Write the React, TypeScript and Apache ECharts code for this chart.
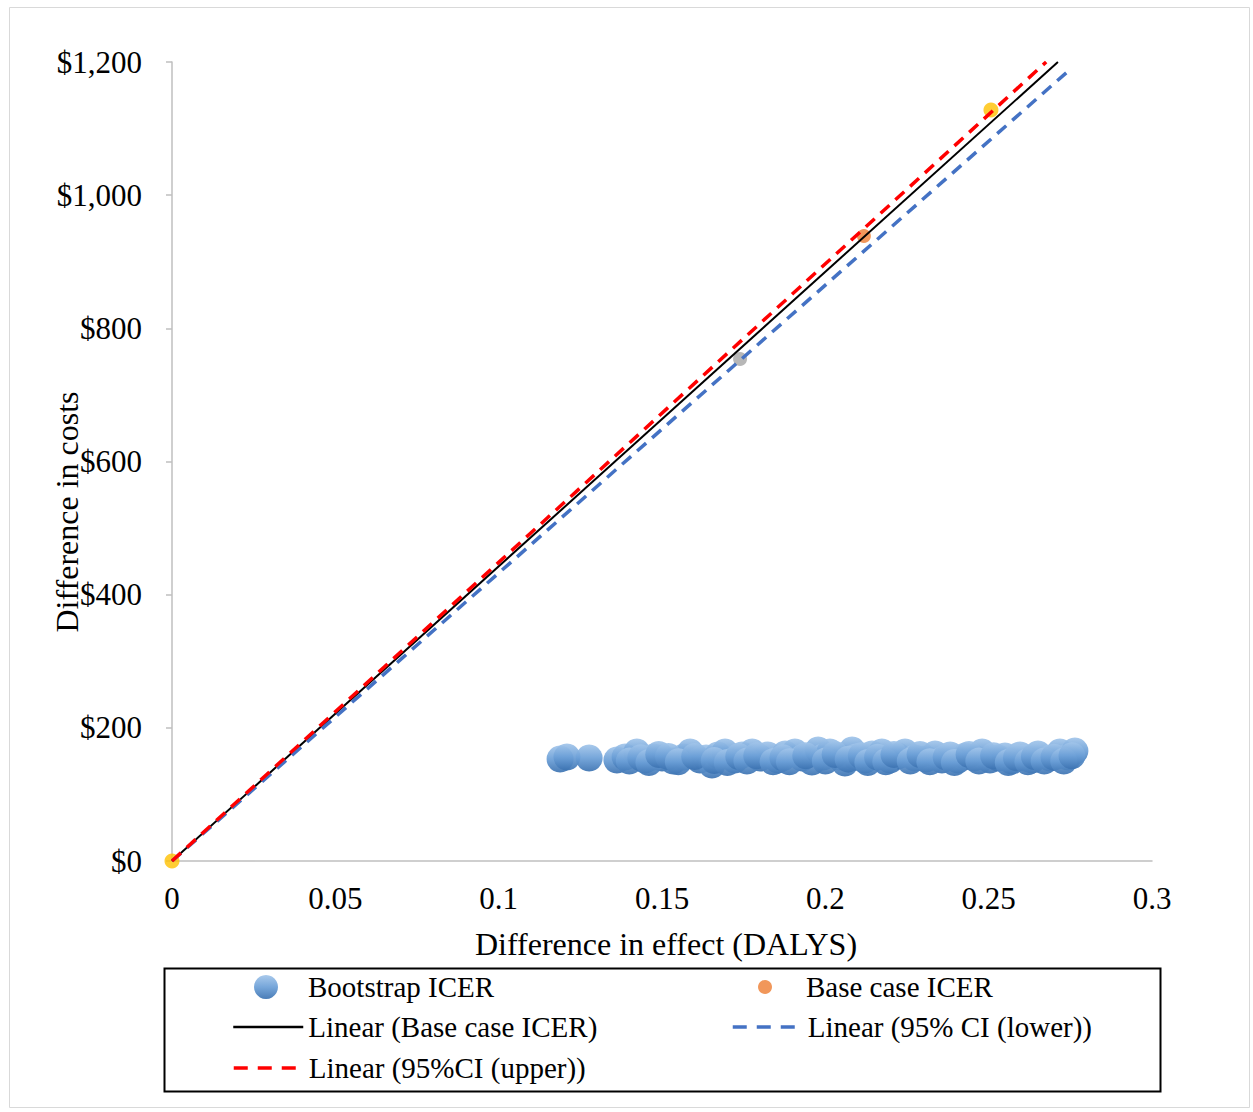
import React, { useEffect, useRef } from "react";
import * as echarts from "echarts";

// Bootstrap ICER scatter (difference in effect, difference in cost)
const bootX = [
  0.1188, 0.1209, 0.1277, 0.1362, 0.1387, 0.1423, 0.1448, 0.1475, 0.15, 0.1534,
  0.1567, 0.1586, 0.1616, 0.1635, 0.1653, 0.1671, 0.1693, 0.1723, 0.1745, 0.1776,
  0.18, 0.1824, 0.1855, 0.1877, 0.1907, 0.1929, 0.1959, 0.1978, 0.1993, 0.2014,
  0.2042, 0.206, 0.2082, 0.2094, 0.2121, 0.2143, 0.2173, 0.2198, 0.2222, 0.2244,
  0.2274, 0.2308, 0.2336, 0.2357, 0.2382, 0.2406, 0.2428, 0.2455, 0.248, 0.2504,
  0.2529, 0.255, 0.2571, 0.2596, 0.2611, 0.2633, 0.2651, 0.2688, 0.2718, 0.2743,
  0.2764,
  0.14, 0.1435, 0.146, 0.149, 0.152, 0.155, 0.16, 0.166, 0.17, 0.1735,
  0.176, 0.179, 0.184, 0.187, 0.189, 0.194, 0.2, 0.203, 0.207, 0.211,
  0.213, 0.216, 0.2185, 0.221, 0.226, 0.229, 0.232, 0.237, 0.2395, 0.244,
  0.247, 0.2515, 0.256, 0.2585, 0.262, 0.264, 0.267, 0.27, 0.273, 0.2755,
];
const bootY = [
  153.2, 156.2, 154.7, 151.7, 156.2, 163.7, 151.7, 156.2, 154.7, 150.2,
  156.2, 163.7, 151.7, 154.7, 144.2, 159.2, 163.7, 151.7, 159.2, 163.7,
  154.7, 159.2, 151.7, 160.7, 163.7, 154.7, 148.7, 166.7, 156.2, 163.7,
  156.2, 147.2, 166.7, 156.2, 151.7, 160.7, 163.7, 151.7, 157.7, 163.7,
  154.7, 153.2, 160.7, 151.7, 159.2, 151.7, 157.7, 154.7, 163.7, 151.7,
  154.7, 157.7, 150.2, 159.2, 154.7, 151.7, 160.7, 154.7, 163.7, 156.2,
  165.2,
  150, 155, 148, 160, 157, 149, 157, 151, 148, 157,
  150, 158, 149, 155, 149, 158, 150, 160, 153, 158,
  148, 156, 149, 160, 150, 160, 149, 156, 148, 160,
  150, 158, 148, 155, 149, 157, 150, 156, 150, 158,
];

// Single points
const baseCasePoint = [[0.2118, 938.7]];
const lowerPoint = [[0.1739, 754]];
const upperPoints = [[0, 0], [0.2507, 1128]];

// Linear trend lines (start and end points)
const baseLine = [[0, 0], [0.2712, 1200]];
const lowerLine = [[0, 0], [0.2738, 1184]];
const upperLine = [[0, 0], [0.2676, 1200]];

const xTicks = { min: 0, max: 0.3, interval: 0.05 };
const yTicks = { min: 0, max: 1200, interval: 200 };

const FONT = "'Liberation Serif', 'Times New Roman', serif";

export default function App() {
  const ref = useRef<HTMLDivElement>(null);

  useEffect(() => {
    if (!ref.current) return;
    const chart = echarts.init(ref.current, undefined, { renderer: "svg" });

    const bubbleColor = {
      type: "linear",
      x: 0,
      y: 0,
      x2: 0,
      y2: 1,
      colorStops: [
        { offset: 0, color: "#a2c5ea" },
        { offset: 0.5, color: "#6b9fd7" },
        { offset: 1, color: "#3b72b1" },
      ],
    };

    const legendText = { fontFamily: FONT, fontSize: 29, color: "#000", lineHeight: 30 };
    const legendBase = {
      orient: "horizontal",
      padding: 0,
      selectedMode: false,
      textStyle: legendText,
    };
    const lineLegendItem = { color: "transparent", borderWidth: 0, opacity: 0 };

    const option = {
      animation: false,
      backgroundColor: "#fff",
      textStyle: { fontFamily: FONT },
      grid: { left: 172, top: 62, width: 980, height: 799, containLabel: false },
      xAxis: {
        type: "value",
        min: xTicks.min,
        max: xTicks.max,
        interval: xTicks.interval,
        name: "Difference in effect (DALYS)",
        nameLocation: "middle",
        nameGap: 67,
        nameMoveOverlap: false,
        nameTextStyle: { fontFamily: FONT, fontSize: 32, color: "#000", padding: [0, 0, 0, 8] },
        axisLine: { show: true, lineStyle: { color: "#bfbfbf", width: 1.5 } },
        axisTick: { show: false },
        splitLine: { show: false },
        axisLabel: { fontFamily: FONT, fontSize: 31, color: "#000", margin: 22 },
      },
      yAxis: {
        type: "value",
        min: yTicks.min,
        max: yTicks.max,
        interval: yTicks.interval,
        name: "Difference in costs",
        nameLocation: "middle",
        nameGap: 89,
        nameRotate: 90,
        nameMoveOverlap: false,
        nameTextStyle: { fontFamily: FONT, fontSize: 32, color: "#000", padding: [0, 101, 0, 0] },
        axisLine: { show: true, lineStyle: { color: "#bfbfbf", width: 1.5 } },
        axisTick: { show: true, inside: false, length: 6, lineStyle: { color: "#bfbfbf", width: 1.5 } },
        splitLine: { show: false },
        axisLabel: {
          fontFamily: FONT,
          fontSize: 31,
          color: "#000",
          margin: 30,
          formatter: (v: number) => "$" + v.toLocaleString("en-US"),
        },
      },
      legend: [
        { ...legendBase, data: ["Bootstrap ICER"], left: 254, top: 972, itemWidth: 74, itemHeight: 24 },
        { ...legendBase, data: ["Base case ICER"], left: 758, top: 972, itemWidth: 72, itemHeight: 14 },
        {
          ...legendBase, data: ["Linear (Base case ICER)"], left: 232, top: 1012, itemWidth: 70, itemHeight: 14,
          itemStyle: lineLegendItem, lineStyle: { width: 2.5, type: "solid" },
        },
        {
          ...legendBase, data: ["Linear (95% CI (lower))"], left: 731, top: 1012, itemWidth: 70, itemHeight: 14,
          itemStyle: lineLegendItem, lineStyle: { width: 3.5, type: [14, 10] },
        },
        {
          ...legendBase, data: ["Linear (95%CI (upper))"], left: 232, top: 1053, itemWidth: 70, itemHeight: 14,
          itemStyle: lineLegendItem, lineStyle: { width: 3.5, type: [14, 10] },
        },
      ],
      graphic: [
        {
          type: "rect",
          left: 7,
          top: 5,
          shape: { x: 0, y: 0, width: 1240, height: 1100 },
          style: { fill: "none", stroke: "#d9d9d9", lineWidth: 1 },
          silent: true,
          z: -10,
        },
        {
          type: "rect",
          left: 162,
          top: 966,
          shape: { x: 0, y: 0, width: 996, height: 123 },
          style: { fill: "none", stroke: "#000", lineWidth: 2 },
          silent: true,
        },
      ],
      series: [
        {
          name: "Bootstrap ICER",
          type: "scatter",
          symbol: "circle",
          symbolSize: 27,
          data: bootX.map((x, i) => [x, bootY[i]]),
          itemStyle: { color: bubbleColor, opacity: 0.92 },
          z: 2,
        },
        {
          name: "Base case ICER",
          type: "scatter",
          symbol: "circle",
          symbolSize: 14,
          data: baseCasePoint,
          itemStyle: { color: "#ED7D31" },
          z: 2,
        },
        {
          name: "95% CI (lower)",
          type: "scatter",
          symbol: "circle",
          symbolSize: 14,
          data: lowerPoint,
          itemStyle: { color: "#A5A5A5" },
          z: 2,
        },
        {
          name: "95%CI (upper)",
          type: "scatter",
          symbol: "circle",
          symbolSize: 15,
          data: upperPoints,
          itemStyle: { color: "#FFC000" },
          clip: false,
          z: 2,
        },
        {
          name: "Linear (Base case ICER)",
          type: "line",
          data: baseLine,
          symbol: "none",
          lineStyle: { color: "#000", width: 2, type: "solid" },
          itemStyle: { color: "#000" },
          z: 3,
        },
        {
          name: "Linear (95% CI (lower))",
          type: "line",
          data: lowerLine,
          symbol: "none",
          lineStyle: { color: "#4472C4", width: 3.5, type: [12, 8] },
          itemStyle: { color: "#4472C4" },
          z: 3,
        },
        {
          name: "Linear (95%CI (upper))",
          type: "line",
          data: upperLine,
          symbol: "none",
          lineStyle: { color: "#FF0000", width: 3.5, type: [12, 8] },
          itemStyle: { color: "#FF0000" },
          z: 3,
        },
      ],
    };

    chart.setOption(option as any);
    return () => chart.dispose();
  }, []);

  return (
    <div
      ref={ref}
      style={{ position: "absolute", left: 0, top: 0, width: 1253, height: 1112 }}
    />
  );
}
